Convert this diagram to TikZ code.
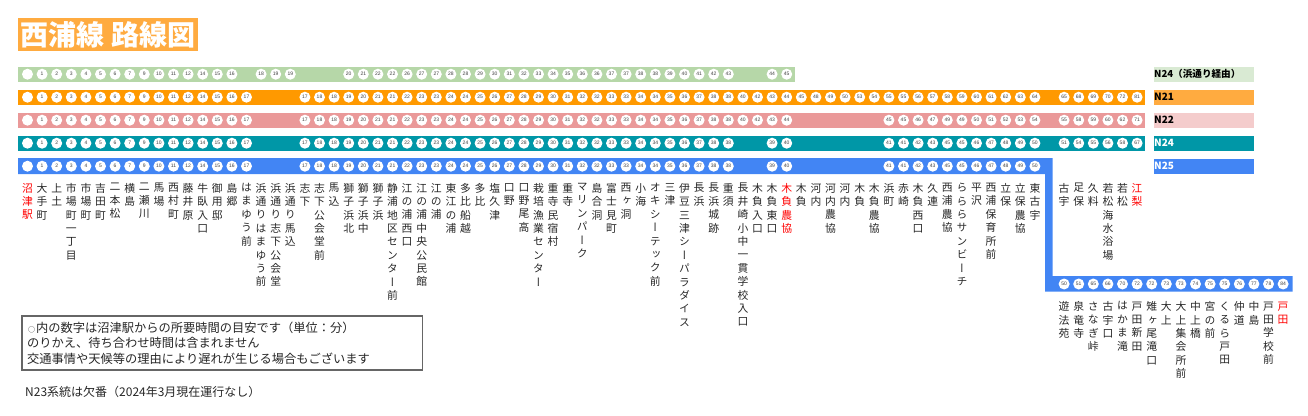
\documentclass[tikz,border=0pt]{standalone}
\usepackage{fontspec}
\setmainfont{Noto Sans CJK JP}
\newfontfamily\numfont{Liberation Sans}
\newfontfamily\tatefont[Vertical=Alternates]{Noto Sans CJK JP}

\definecolor{titlebg}{HTML}{FFAB40}
\definecolor{barfirst}{HTML}{B6D7A8}
\definecolor{keyfirst}{HTML}{D9EAD3}
\definecolor{barorange}{HTML}{FF9900}
\definecolor{barpink}{HTML}{EA9999}
\definecolor{keypink}{HTML}{F4CCCC}
\definecolor{barteal}{HTML}{0097A7}
\definecolor{barblue}{HTML}{4285F4}

\tikzset{
  stopcirc/.style={circle,fill=white,inner sep=0pt,minimum size=11pt,text=black!75,
    font=\numfont\fontsize{5}{6}\selectfont},
  stnlabel/.style={anchor=north,inner sep=0pt,font=\tatefont\fontsize{10.8}{13.4}\selectfont},
  keytext/.style={anchor=west,inner sep=0pt,font=\bfseries\fontsize{10}{12}\selectfont},
  notetext/.style={anchor=west,inner sep=0pt,text=black!85,font=\fontsize{12.25}{14}\selectfont}
}

\makeatletter
\newcommand{\tateji}[1]{\vbox{\baselineskip=13.4pt\lineskiplimit=-20pt
  \@tfor\mj:=#1\do{\hbox to 12pt{\hss\mj\hss}}}}
\makeatother

\newcommand{\stoprow}[4]{%
  \edef\rowlist{#4}
  \foreach \num [count=\col from #3] in \rowlist
    \node [stopcirc] (#1c\col) at ({27.5+14.6*\col},#2) {\num};
}
\newcommand{\stnlist}[4]{%
  \foreach \nm [count=\col from #3] in {#4}
    \node [stnlabel,text=#2] (#1s\col) at ({27.5+14.6*\col},#1) {\expandafter\tateji\expandafter{\nm}};
}
\newcommand{\numfront}{1,2,3,4,5,6,7,9,10,11,12,14,15,16,17}
\newcommand{\nummid}{17,18,18,19,20,21,21,22,23,23,24,24,25,26,27,28,29,30,31,32,32,33,33,34,34,35,36,37,38,38}

\begin{document}
\begin{tikzpicture}[x=1pt,y=-1pt]
\useasboundingbox (0,0) rectangle (1308,415);

\fill [titlebg] (18,18) rectangle (198,51);
\node (title) [anchor=west,inner sep=0pt,text=white,font=\bfseries\fontsize{28}{30}\selectfont] at (20,34.7) {西浦線\hspace{7pt}路線図};

\fill [barfirst] (18,66.5) rectangle (795,82);
\fill [barorange] (18,89.5) rectangle (1145,105);
\fill [barpink] (18,112.5) rectangle (1145,128);
\fill [barteal] (18,135.5) rectangle (1145,151);
\fill [barblue] (18,158) -- (1052.7,158) -- (1052.7,276) -- (1292.7,276) -- (1292.7,291.7) -- (1045,291.7) -- (1045,174) -- (18,174) -- cycle;

\foreach \rowname/\rowy in {a/74.2,b/97.2,c/120.2,d/143.2,e/166.2}
  \node [stopcirc] (\rowname c0) at (27.5,\rowy) {};

\stoprow{a}{74.2}{1}{1,2,3,4,5,6,7,9,10,11,12,14,15,16}
\stoprow{a}{74.2}{16}{18,19,19}
\stoprow{a}{74.2}{22}{20,21,22,22,26,27,27,28,28,29,30,31,32,33,34,35,36,36,37,37,38,38,39,40,41,42,43}
\stoprow{a}{74.2}{51}{44,45}

\stoprow{b}{97.2}{1}{\numfront}
\stoprow{b}{97.2}{19}{\nummid}
\stoprow{b}{97.2}{49}{40,42,43,44,45,48,49,50,53,54,55,55,56,57,58,59,60,61,62,63,64}
\stoprow{b}{97.2}{71}{65,68,69,70,72,81}

\stoprow{c}{120.2}{1}{\numfront}
\stoprow{c}{120.2}{19}{\nummid}
\stoprow{c}{120.2}{49}{40,42,43,44}
\stoprow{c}{120.2}{59}{45,45,46,47,49,49,50,51,52,53,54}
\stoprow{c}{120.2}{71}{55,58,59,60,62,71}

\stoprow{d}{143.2}{1}{\numfront}
\stoprow{d}{143.2}{19}{\nummid}
\stoprow{d}{143.2}{51}{39,40}
\stoprow{d}{143.2}{59}{41,41,42,43,45,45,46,47,48,49,50}
\stoprow{d}{143.2}{71}{51,54,55,56,58,67}

\stoprow{e}{166.2}{1}{\numfront}
\stoprow{e}{166.2}{19}{\nummid}
\stoprow{e}{166.2}{51}{39,40}
\stoprow{e}{166.2}{59}{41,41,42,43,45,45,46,47,48,49,50}

\stoprow{f}{284}{71}{50,51,65,66,70,72,72,73,73,74,75,75,76,77,78,84}

\stnlist{183}{red}{0}{沼津駅}
\stnlist{183}{black!85}{1}{大手町,上土,市場町一丁目,市場町,吉田町,二本松,横島,二瀬川,馬場,西村町,藤井原,牛臥入口,御用邸,島郷,はまゆう前,浜通りはまゆう前,浜通り志下公会堂,浜通り馬込,志下,志下公会堂前,馬込,獅子浜北,獅子浜中,獅子浜,静浦地区センター前,江の浦西口,江の浦中央公民館,江の浦,東江の浦,多比船越,多比,塩久津,口野,口野尾高,栽培漁業センター,重寺民宿村,重寺,マリンパーク,島合洞,富士見町,西ヶ洞,小海,オキシーテック前,三津,伊豆三津シーパラダイス,長浜,長浜城跡,重須,長井崎小中一貫学校入口,木負入口,木負東口}
\stnlist{183}{red}{52}{木負農協}
\stnlist{183}{black!85}{53}{木負,河内,河内農協,河内,木負,木負農協,浜町,赤崎,木負西口,久連,西浦農協,らららサンビーチ,平沢,西浦保育所前,立保,立保農協,東古宇}
\stnlist{183}{black!85}{71}{古宇,足保,久料,若松海水浴場,若松}
\stnlist{183}{red}{76}{江梨}
\stnlist{301.5}{black!85}{71}{遊法苑,泉竜寺,さなぎ峠,古宇口,はかま滝,戸田新田,雉ヶ尾滝口,大上,大上集会所前,中上橋,宮の前,くるら戸田,仲道,中島,戸田学校前}
\stnlist{301.5}{red}{86}{戸田}

\fill [keyfirst] (1154,66.5) rectangle (1253.7,82);
\fill [titlebg] (1154,89.5) rectangle (1253.7,105);
\fill [keypink] (1154,112.5) rectangle (1253.7,128);
\fill [barteal] (1154,135.5) rectangle (1253.7,151);
\fill [barblue] (1154,158.5) rectangle (1253.7,174);
\node [keytext,font=\bfseries\fontsize{9.6}{12}\selectfont] (keya) at (1154,74.2) {N24（浜通り経由）};
\node [keytext] (keyb) at (1154,97.2) {N21};
\node [keytext] (keyc) at (1154,120.2) {N22};
\node [keytext,text=white] (keyd) at (1154,143.2) {N24};
\node [keytext,text=white] (keye) at (1154,166.2) {N25};

\draw [black!60,line width=1.2pt] (22,316) rectangle (422.7,370);
\node [notetext] (notea) at (27,327.7) {\makebox[9pt]{\fontsize{7}{8}\selectfont ○}内の数字は沼津駅からの所要時間の目安です（単位：分）};
\node [notetext] (noteb) at (27,343.2) {のりかえ、待ち合わせ時間は含まれません};
\node [notetext] (notec) at (27,358.3) {交通事情や天候等の理由により遅れが生じる場合もございます};
\node [notetext,font=\fontsize{12}{14}\selectfont] (noted) at (25,391.7) {N23系統は欠番（2024年3月現在運行なし）};

\end{tikzpicture}
\end{document}
